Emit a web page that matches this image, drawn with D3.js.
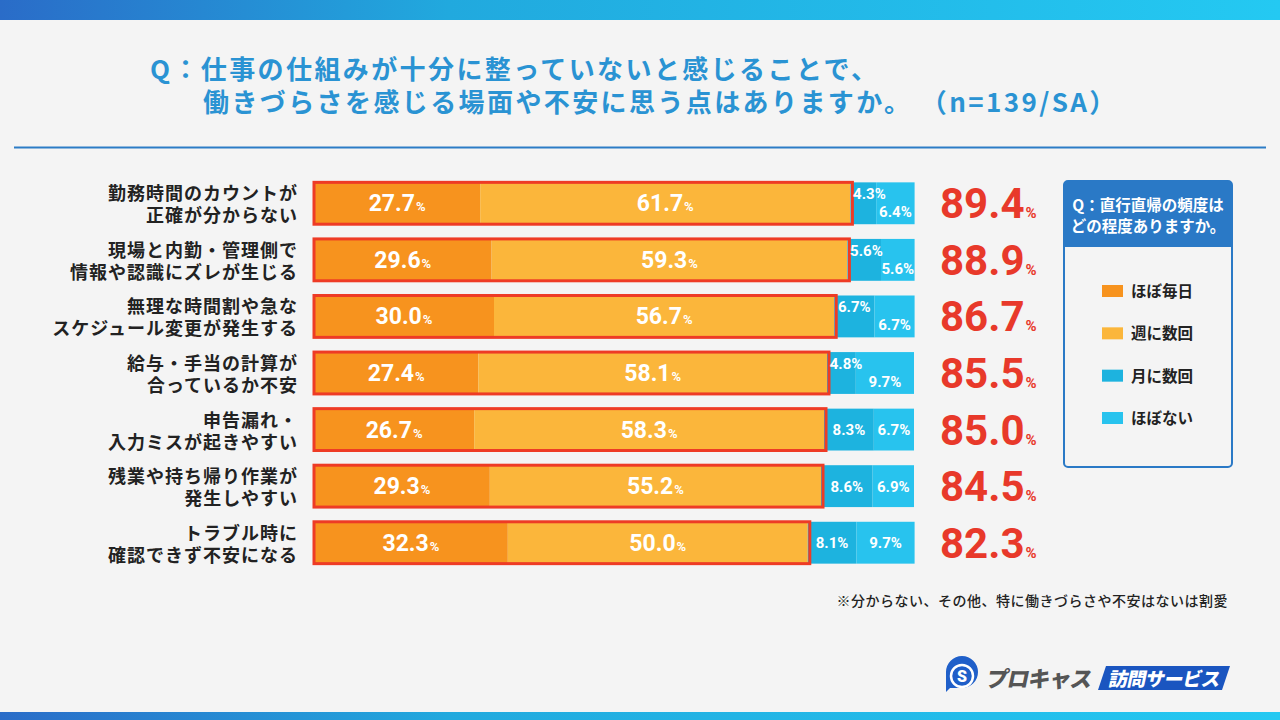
<!DOCTYPE html>
<html><head><meta charset="utf-8">
<script src="https://cdn.jsdelivr.net/npm/d3@7"></script>
<style>
html,body{margin:0;padding:0;background:#f4f4f4;}
svg{display:block;}
.jp{font-family:"Noto Sans CJK JP","Noto Sans",sans-serif;}
.num{font-family:Roboto,"Noto Sans",sans-serif;}
</style></head>
<body>
<svg id="c" width="1280" height="720"></svg>
<script>
const categories = [
  ["勤務時間のカウントが","正確が分からない"],
  ["現場と内勤・管理側で","情報や認識にズレが生じる"],
  ["無理な時間割や急な","スケジュール変更が発生する"],
  ["給与・手当の計算が","合っているか不安"],
  ["申告漏れ・","入力ミスが起きやすい"],
  ["残業や持ち帰り作業が","発生しやすい"],
  ["トラブル時に","確認できず不安になる"]
];
const seriesNames = ["ほぼ毎日","週に数回","月に数回","ほぼない"];
const daily   = [27.7,29.6,30.0,27.4,26.7,29.3,32.3];
const weekly  = [61.7,59.3,56.7,58.1,58.3,55.2,50.0];
const monthly = [4.3,5.6,6.7,4.8,8.3,8.6,8.1];
const never   = [6.4,5.6,6.7,9.7,6.7,6.9,9.7];
const totals  = [89.4,88.9,86.7,85.5,85.0,84.5,82.3];
const colors = ["#f7931e","#fbb63b","#1db3df","#28c3ee"];

const svg = d3.select("#c");
const defs = svg.append("defs");
const g1 = defs.append("linearGradient").attr("id","topg").attr("x1","0").attr("x2","1");
g1.append("stop").attr("offset","0").attr("stop-color","#2a6cc8");
g1.append("stop").attr("offset","0.35").attr("stop-color","#21a9de");
g1.append("stop").attr("offset","1").attr("stop-color","#24c9f2");
svg.append("rect").attr("width",1280).attr("height",720).attr("fill","#f4f4f4");
svg.append("rect").attr("x",0).attr("y",0).attr("width",1280).attr("height",20).attr("fill","url(#topg)");
svg.append("rect").attr("x",0).attr("y",712).attr("width",1280).attr("height",8).attr("fill","url(#topg)");

// title
const title = svg.append("g").attr("class","jp").attr("fill","#2a93d3").attr("font-weight",700).attr("font-size",26);
title.append("text").attr("x",150).attr("y",79).attr("letter-spacing",2.4).text("Q：仕事の仕組みが十分に整っていないと感じることで、");
title.append("text").attr("x",203).attr("y",112).attr("letter-spacing",2.4).text("働きづらさを感じる場面や不安に思う点はありますか。 （n=139/SA）");
svg.append("line").attr("x1",14).attr("x2",1266).attr("y1",147.5).attr("y2",147.5).attr("stroke","#2c7cc6").attr("stroke-width",2);

// scales
const x = d3.scaleLinear().domain([0,100]).range([314,914]);
const y = d3.scaleBand().domain(d3.range(categories.length)).range([175,571]).paddingInner(0.26).paddingOuter(0.13);
const bh = y.bandwidth();

const rows = svg.append("g").selectAll("g").data(categories).join("g")
  .attr("transform",(d,i)=>`translate(0,${y(i)})`);

rows.each(function(cat,i){
  const g = d3.select(this);
  const vals=[daily[i],weekly[i],monthly[i],never[i]];
  let acc=0;
  const segs = vals.map((v,k)=>{const s={k,v,x0:acc,x1:acc+v};acc+=v;return s;});
  g.selectAll("rect.seg").data(segs).join("rect").attr("class","seg")
    .attr("x",d=>x(d.x0)).attr("width",d=>x(d.x1)-x(d.x0))
    .attr("y",0).attr("height",bh).attr("fill",d=>colors[d.k]);
  // red outline around daily+weekly
  g.append("rect").attr("x",x(0)).attr("y",0).attr("width",x(vals[0]+vals[1])-x(0)+2).attr("height",bh)
    .attr("fill","none").attr("stroke","#ee3b25").attr("stroke-width",3);
  // big labels
  [0,1].forEach(k=>{
    const s=segs[k];
    const t=g.append("text").attr("class","num").attr("x",(x(s.x0)+x(s.x1))/2).attr("y",bh/2+8)
      .attr("text-anchor","middle").attr("fill","#fff").attr("font-weight",700).attr("font-size",23);
    t.append("tspan").text(s.v.toFixed(1));
    t.append("tspan").attr("font-size",13).attr("dx",1).text("%");
  });
  // small labels
  const stagger = monthly[i] < 7;
  [2,3].forEach(k=>{
    const s=segs[k];
    let cx=(x(s.x0)+x(s.x1))/2;
    let cy=bh/2+5.5;
    if(stagger){
      if(k===2){ cx=Math.max(cx, x(s.x0)+19); cy=bh/2-4; }
      else { cy=bh/2+14; }
    }
    g.append("text").attr("class","num").attr("x",cx).attr("y",cy).attr("text-anchor","middle")
      .attr("fill","#fff").attr("font-weight",700).attr("font-size",15).text(s.v.toFixed(1)+"%");
  });
  // category label
  g.append("text").attr("class","jp").attr("x",298).attr("y",bh/2-3).attr("text-anchor","end")
    .attr("fill","#222").attr("font-weight",700).attr("font-size",18).attr("letter-spacing",1).text(cat[0]);
  g.append("text").attr("class","jp").attr("x",298).attr("y",bh/2+19).attr("text-anchor","end")
    .attr("fill","#222").attr("font-weight",700).attr("font-size",18).attr("letter-spacing",1).text(cat[1]);
  // total
  const tt=g.append("text").attr("class","num").attr("x",940).attr("y",bh/2+15).attr("fill","#e8392a").attr("font-weight",700).attr("font-size",42);
  tt.append("tspan").text(totals[i].toFixed(1));
  tt.append("tspan").attr("font-size",15).attr("dx",1).text("%");
});

// legend
const lg = svg.append("g");
lg.append("rect").attr("x",1064).attr("y",181).attr("width",168).attr("height",286).attr("rx",4)
  .attr("fill","#f4f4f4").attr("stroke","#2a79c6").attr("stroke-width",2);
lg.append("path").attr("d","M1064,247 V185 a4,4 0 0 1 4,-4 H1228 a4,4 0 0 1 4,4 V247 Z").attr("fill","#2a79c6");
lg.append("text").attr("class","jp").attr("x",1148).attr("y",211).attr("text-anchor","middle").attr("fill","#fff")
  .attr("font-weight",700).attr("font-size",15.5).text("Q：直行直帰の頻度は");
lg.append("text").attr("class","jp").attr("x",1148).attr("y",232).attr("text-anchor","middle").attr("fill","#fff")
  .attr("font-weight",700).attr("font-size",15.5).text("どの程度ありますか。");
const ly = d3.scalePoint().domain(seriesNames).range([291,418]);
const li = lg.selectAll("g.li").data(seriesNames).join("g").attr("class","li").attr("transform",d=>`translate(0,${ly(d)})`);
li.append("rect").attr("x",1102).attr("y",-6).attr("width",21).attr("height",12).attr("fill",(d,i)=>colors[i]);
li.append("text").attr("class","jp").attr("x",1131).attr("y",6).attr("fill","#222").attr("font-weight",700).attr("font-size",15.5).text(d=>d);

// footnote
svg.append("text").attr("class","jp").attr("x",1228).attr("y",606).attr("text-anchor","end").attr("fill","#222")
  .attr("font-size",14).attr("letter-spacing",0.5).attr("font-weight",500).text("※分からない、その他、特に働きづらさや不安はないは割愛");

// logo
const logo = svg.append("g");
logo.append("path").attr("d","M946,692 V672 a16,16 0 1 1 16,16 H950 Z").attr("fill","#1f5fc9");
logo.append("circle").attr("cx",962).attr("cy",676).attr("r",11).attr("fill","none").attr("stroke","#fff").attr("stroke-width",2.5);
logo.append("text").attr("x",962).attr("y",682).attr("text-anchor","middle").attr("fill","#fff").attr("font-weight",900)
  .attr("font-size",16).attr("font-family","Roboto").text("S");
logo.append("text").attr("class","jp").attr("x",988).attr("y",687).attr("fill","#555").attr("font-weight",900)
  .attr("font-size",22).attr("transform","skewX(-12) translate(143,0)").attr("letter-spacing",-1).text("プロキャス");
logo.append("path").attr("d","M1106,666 H1230 L1222,690 H1098 Z").attr("fill","#1a55c0");
logo.append("text").attr("class","jp").attr("x",1164).attr("y",686).attr("text-anchor","middle").attr("fill","#fff").attr("font-weight",900)
  .attr("font-size",19).attr("transform","skewX(-12) translate(145,0)").attr("letter-spacing",-0.5).text("訪問サービス");
</script>
</body></html>
